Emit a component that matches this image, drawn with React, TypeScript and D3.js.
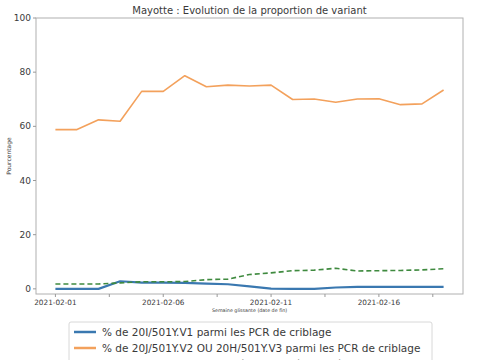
import React from "react";
import * as d3 from "d3";

const dates = [
  "2021-02-01","2021-02-02","2021-02-03","2021-02-04","2021-02-05","2021-02-06","2021-02-07",
  "2021-02-08","2021-02-09","2021-02-10","2021-02-11","2021-02-12","2021-02-13","2021-02-14",
  "2021-02-15","2021-02-16","2021-02-17","2021-02-18","2021-02-19",
];
const v1 = [0, 0, 0, 2.8, 2.3, 2.3, 2.2, 1.9, 1.7, 0.9, 0.1, 0, 0, 0.5, 0.7, 0.7, 0.7, 0.7, 0.7];
const v2v3 = [58.8, 58.8, 62.4, 61.9, 72.9, 72.9, 78.7, 74.6, 75.2, 74.9, 75.2, 69.9, 70.1, 68.9, 70.1, 70.2, 68.0, 68.3, 73.4];
const other = [1.8, 1.8, 1.8, 2.2, 2.6, 2.6, 2.7, 3.4, 3.6, 5.3, 5.9, 6.7, 6.9, 7.6, 6.6, 6.7, 6.8, 7.0, 7.4];
const xTicks = [0, 2.5, 5, 7.5, 10, 12.5, 15, 17.5];
const yTicks = [0, 20, 40, 60, 80, 100];
const legendLabels = [
  "% de 20I/501Y.V1 parmi les PCR de criblage",
  "% de 20J/501Y.V2 OU 20H/501Y.V3 parmi les PCR de criblage",
  "% de PCR de criblage au résultat indéterminé",
];
const title = "Mayotte : Evolution de la proportion de variant";

const W = 485, H = 360;
const L = 36, R = 463, T = 18, B = 294;
const FONT = "DejaVu Sans, sans-serif";
const TXT = "#3a3a3a";
const BLUE = "#3a78b0", ORANGE = "#f3a15c", GREEN = "#3f8a3f";

export default function App() {
  const n = dates.length;
  const x = d3.scaleLinear().domain([-0.9, n - 1 + 0.9]).range([L, R]);
  const y = d3.scaleLinear().domain([-1.9, 100]).range([B, T]);
  const line = d3.line<number>().x((_, i) => x(i)).y((d) => y(d));
  const series = [
    { data: v1, color: BLUE, width: 2.2, dash: undefined as string | undefined },
    { data: v2v3, color: ORANGE, width: 1.6, dash: undefined },
    { data: other, color: GREEN, width: 1.6, dash: "5,3" },
  ];
  return (
    <svg width={W} height={H} style={{ position: "absolute", left: 0, top: 0, background: "#fff" }}>
      <text x={(L + R) / 2} y={13.5} textAnchor="middle" fontFamily={FONT} fontSize={10} fill={TXT}>
        {title}
      </text>
      {series.map((s, k) => (
        <path key={k} d={line(s.data) || ""} fill="none" stroke={s.color} strokeWidth={s.width}
          strokeDasharray={s.dash} strokeLinejoin="round" />
      ))}
      <rect x={L} y={T} width={R - L} height={B - T} fill="none" stroke="#b0b0b0" strokeWidth={1} />
      {yTicks.map((t) => (
        <g key={t}>
          <line x1={L - 3} x2={L} y1={y(t)} y2={y(t)} stroke="#999" />
          <text x={L - 5} y={y(t)} dy="0.35em" textAnchor="end" fontFamily={FONT} fontSize={9} fill={TXT}>
            {t}
          </text>
        </g>
      ))}
      {xTicks.map((t) => (
        <g key={t}>
          <line x1={x(t)} x2={x(t)} y1={B} y2={B + 3} stroke="#999" />
          {Number.isInteger(t) && t % 5 === 0 ? (
            <text x={x(t)} y={305} textAnchor="middle" fontFamily={FONT} fontSize={7.3} fill={TXT}>
              {dates[t]}
            </text>
          ) : null}
        </g>
      ))}
      <text x={(L + R) / 2} y={312} textAnchor="middle" fontFamily={FONT} fontSize={4.8} fill={TXT}>
        Semaine glissante (date de fin)
      </text>
      <text transform={`translate(8,${(T + B) / 2}) rotate(-90)`} textAnchor="middle" dominantBaseline="central"
        fontFamily={FONT} fontSize={6} fill={TXT}>
        Pourcentage
      </text>
      <rect x={69} y={322} width={363} height={60} rx={2} fill="#fff" stroke="#d8d8d8" strokeWidth={1} />
      {legendLabels.map((lab, i) => {
        const yy = 332 + i * 16;
        const s = series[i];
        return (
          <g key={i}>
            <line x1={74} x2={96} y1={yy} y2={yy} stroke={s.color} strokeWidth={2.5} strokeDasharray={s.dash} />
            <text x={102} y={yy} dy="0.35em" fontFamily={FONT} fontSize={10.5} fill={TXT}>
              {lab}
            </text>
          </g>
        );
      })}
    </svg>
  );
}
